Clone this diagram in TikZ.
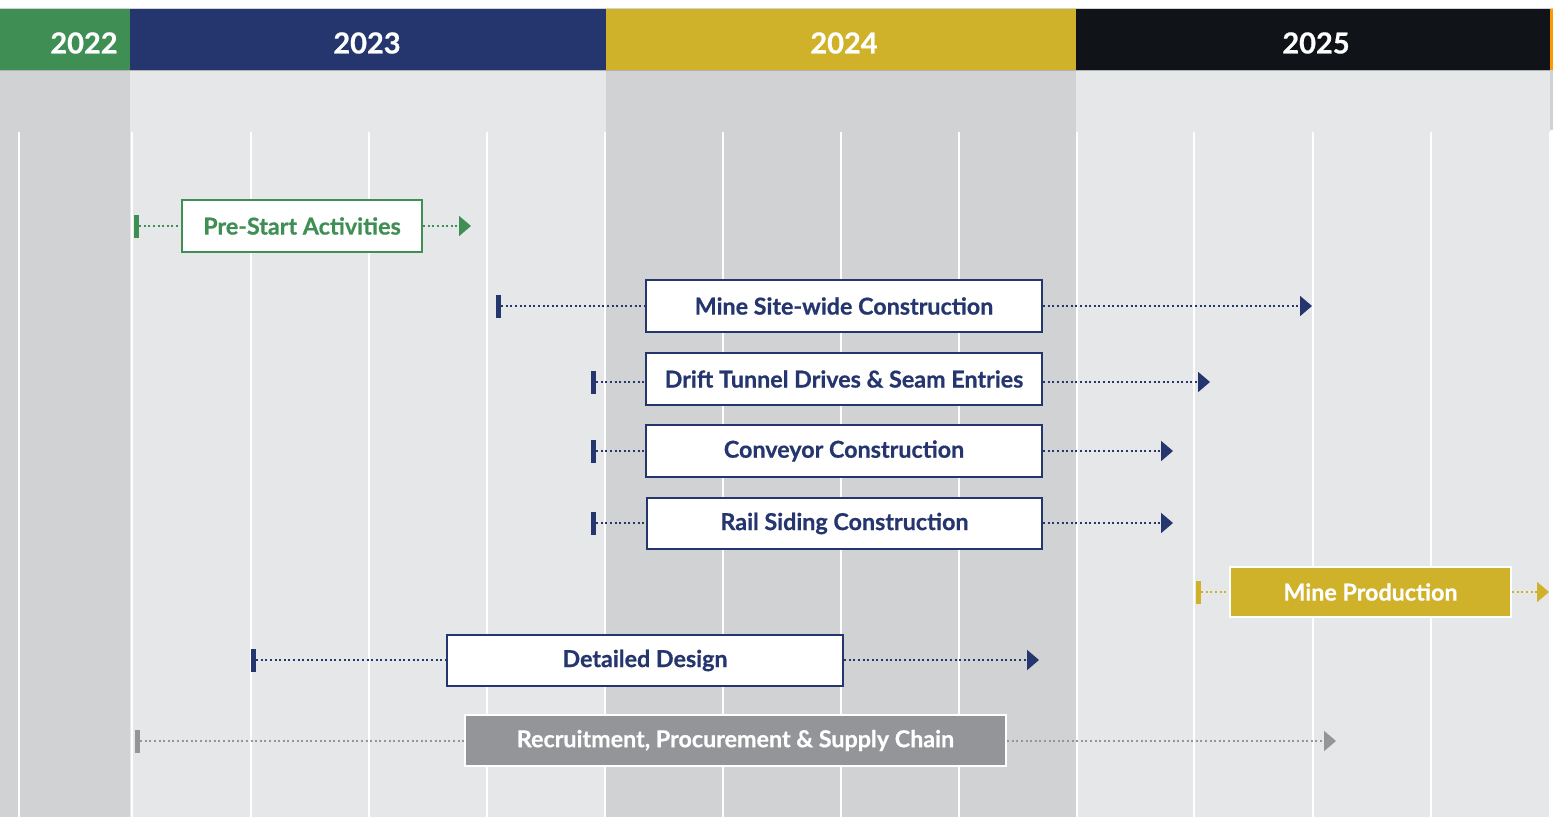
\documentclass[tikz,border=0pt]{standalone}
\usepackage{fontspec}
\setmainfont{Lato}[BoldFeatures={FakeBold=0.6}]
\usetikzlibrary{arrows.meta}
\definecolor{cgreen}{HTML}{3F8F55}
\definecolor{cnavy}{HTML}{25366F}
\definecolor{cgold}{HTML}{D0B12A}
\definecolor{cblack}{HTML}{101418}
\definecolor{cgray}{HTML}{939598}
\definecolor{bglight}{HTML}{E6E7E9}
\definecolor{bgdark}{HTML}{D1D2D4}
\begin{document}
\begin{tikzpicture}[x=1pt,y=-1pt,
  yeartxt/.style={text=white,font=\bfseries\fontsize{29}{32}\selectfont,anchor=center},
  barbox/.style={draw=#1,line width=2.5pt,fill=white,text=#1,font=\bfseries\fontsize{23.3}{26}\selectfont,inner sep=0pt,anchor=center},
  fillbox/.style={draw=white,line width=2.5pt,fill=#1,text=white,font=\bfseries\fontsize{23.3}{26}\selectfont,inner sep=0pt,anchor=center},
  tickmark/.style={fill=#1,inner sep=0pt,minimum width=5pt,minimum height=23pt,anchor=center},
  dotline/.style={draw=#1,line width=2pt,dash pattern=on 2pt off 2.6pt,-{Triangle[length=12pt,width=20pt,fill=#1]}},
  dotplain/.style={draw=#1,line width=2pt,dash pattern=on 2pt off 2.6pt},
  gridline/.style={draw=white,line width=2.2pt}]
\useasboundingbox (0,0) rectangle (1553,817);
\fill[white] (0,0) rectangle (1553,817);
% backgrounds
\fill[bgdark] (0,70) rectangle (130,817);
\fill[bglight] (130,70) rectangle (606,817);
\fill[bgdark] (606,70) rectangle (1076,817);
\fill[bglight] (1076,70) rectangle (1550,817);
\fill[bgdark] (1550,70) rectangle (1553,130);
% header
\fill[cgreen] (0,9) rectangle (130,70);
\fill[cnavy] (130,9) rectangle (606,70);
\fill[cgold] (606,9) rectangle (1076,70);
\fill[cblack] (1076,9) rectangle (1550,70);
\fill[orange!80!yellow] (1550,9) rectangle (1553,70);
\draw[bgdark,line width=1pt] (0,8.5) -- (1553,8.5);
\draw[gray!60,line width=1pt] (0,70.5) -- (1550,70.5);
\node[yeartxt] (y22) at (84,43) {2022};
\node[yeartxt] (y23) at (367,43) {2023};
\node[yeartxt] (y24) at (844,43) {2024};
\node[yeartxt] (y25) at (1316,43) {2025};
% grid lines
\foreach \gx in {19,132,251,369,487,605,723,841,959,1077,1194,1313,1431,1550}
  \draw[gridline] (\gx,132) -- (\gx,817);
% 1 Pre-Start
\node[tickmark=cgreen] (t1) at (136.5,226) {};
\node[barbox=cgreen,minimum width=240pt,minimum height=52pt] (b1) at (302,226) {\raisebox{-1.5pt}{Pre-Start Activities}};
\coordinate (e1) at (471,226);
\draw[dotplain=cgreen] (t1.east) -- (b1.west);
\draw[dotline=cgreen] (b1.east) -- (e1);
% 2 Mine site-wide
\node[tickmark=cnavy] (t2) at (498.5,306) {};
\node[barbox=cnavy,minimum width=396pt,minimum height=52pt] (b2) at (844,306) {\raisebox{-1.5pt}{Mine Site-wide Construction}};
\coordinate (e2) at (1312,306);
\draw[dotplain=cnavy] (t2.east) -- (b2.west);
\draw[dotline=cnavy] (b2.east) -- (e2);
% 3 Drift
\node[tickmark=cnavy] (t3) at (593.5,382) {};
\node[barbox=cnavy,minimum width=396pt,minimum height=52pt] (b3) at (844,379) {\raisebox{-1.5pt}{Drift Tunnel Drives \& Seam Entries}};
\coordinate (e3) at (1210,382);
\draw[dotplain=cnavy] (t3.east) -- (t3.east -| b3.west);
\draw[dotline=cnavy] (t3.east -| b3.east) -- (e3);
% 4 Conveyor
\node[tickmark=cnavy] (t4) at (593.5,451) {};
\node[barbox=cnavy,minimum width=396pt,minimum height=52pt] (b4) at (844,451) {\raisebox{-1.5pt}{Conveyor Construction}};
\coordinate (e4) at (1173,451);
\draw[dotplain=cnavy] (t4.east) -- (b4.west);
\draw[dotline=cnavy] (b4.east) -- (e4);
% 5 Rail
\node[tickmark=cnavy] (t5) at (593.5,523) {};
\node[barbox=cnavy,minimum width=395pt,minimum height=51pt] (b5) at (844.5,523.5) {\raisebox{-1.5pt}{Rail Siding Construction}};
\coordinate (e5) at (1173,523);
\draw[dotplain=cnavy] (t5.east) -- (t5.east -| b5.west);
\draw[dotline=cnavy] (t5.east -| b5.east) -- (e5);
% 6 Mine Production
\node[tickmark=cgold] (t6) at (1198.5,592) {};
\node[fillbox=cgold,minimum width=281pt,minimum height=50pt] (b6) at (1370.5,592) {\raisebox{-1.5pt}{Mine Production}};
\coordinate (e6) at (1549,592);
\draw[dotplain=cgold] (t6.east) -- (b6.west);
\draw[dotline=cgold] (b6.east) -- (e6);
% 7 Detailed Design
\node[tickmark=cnavy] (t7) at (253.5,660) {};
\node[barbox=cnavy,minimum width=396pt,minimum height=51pt] (b7) at (645,660.5) {\raisebox{-1.5pt}{Detailed Design}};
\coordinate (e7) at (1039,660);
\draw[dotplain=cnavy] (t7.east) -- (t7.east -| b7.west);
\draw[dotline=cnavy] (t7.east -| b7.east) -- (e7);
% 8 Recruitment
\node[tickmark=cgray] (t8) at (137.5,741) {};
\node[fillbox=cgray,minimum width=541pt,minimum height=51pt] (b8) at (735.5,740.5) {\raisebox{-1.5pt}{Recruitment, Procurement \& Supply Chain}};
\coordinate (e8) at (1336,741);
\draw[dotplain=cgray] (t8.east) -- (t8.east -| b8.west);
\draw[dotline=cgray] (t8.east -| b8.east) -- (e8);
\end{tikzpicture}
\end{document}
